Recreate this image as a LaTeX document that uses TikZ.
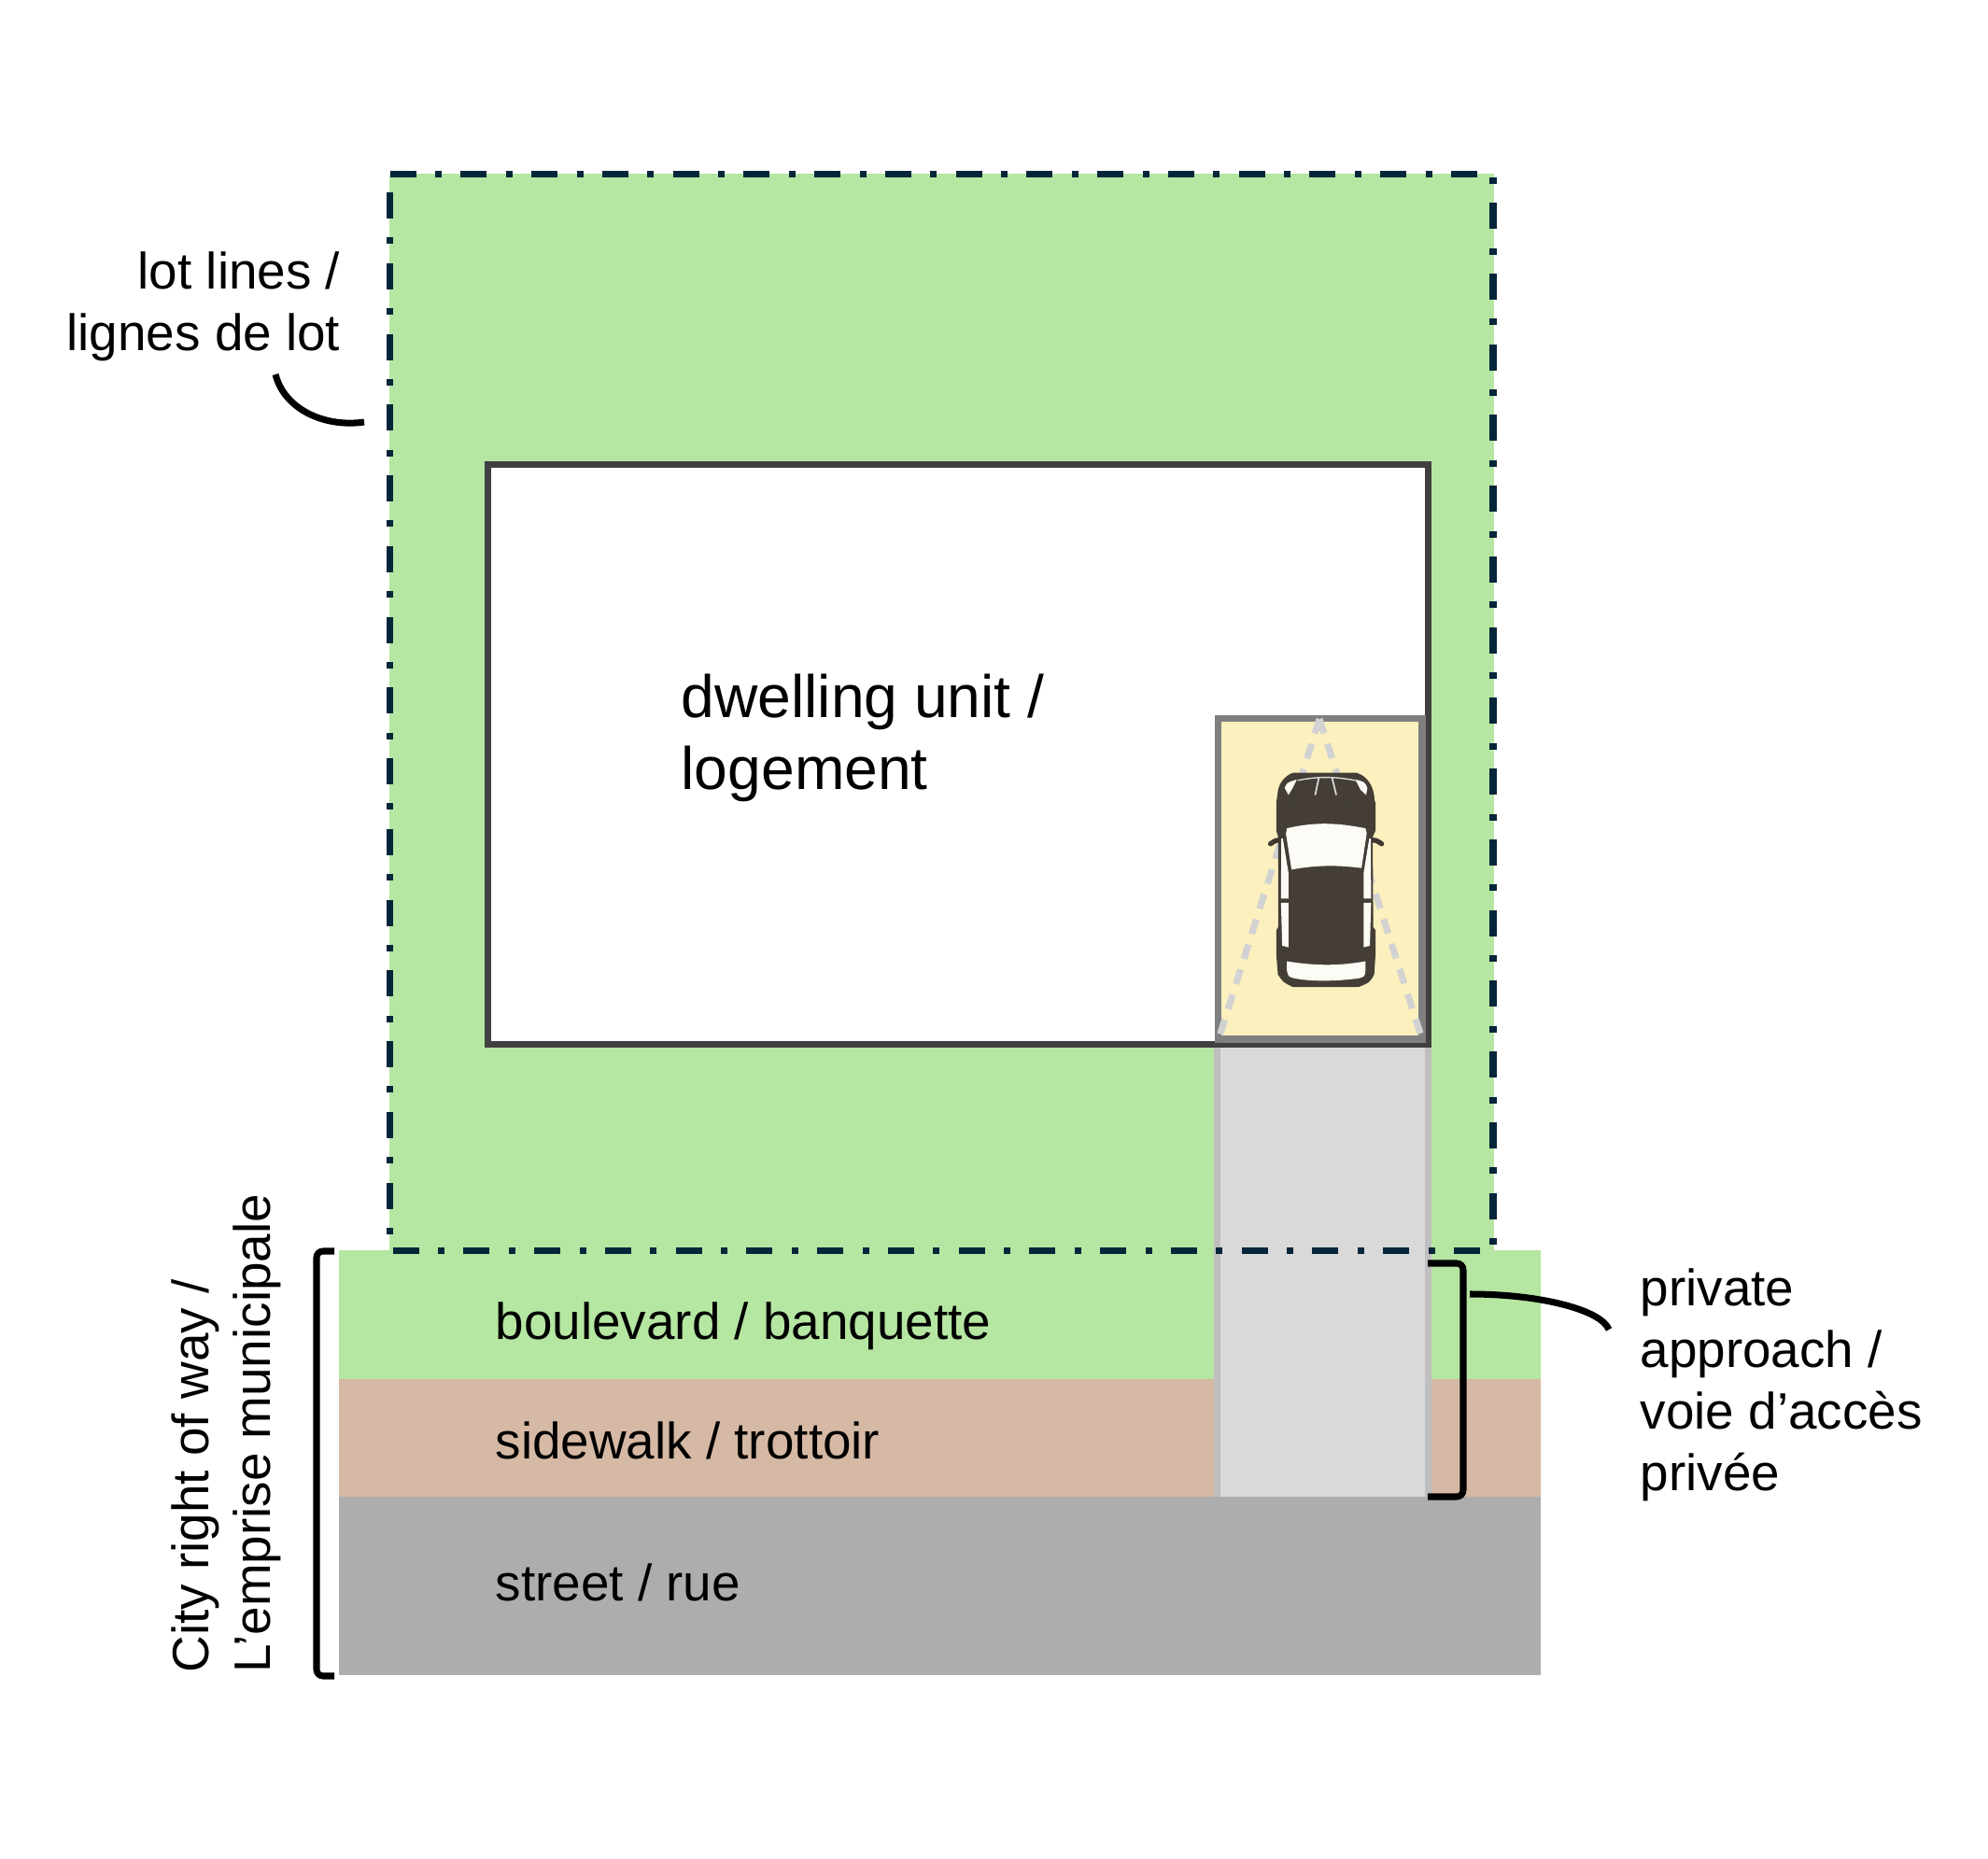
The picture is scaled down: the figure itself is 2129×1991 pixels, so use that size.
\documentclass[tikz,border=0pt]{standalone}
\usepackage{fontspec}
\setmainfont{Liberation Sans}
\usetikzlibrary{positioning}
\definecolor{lawngreen}{HTML}{B5E6A2}
\definecolor{walktan}{HTML}{D5B9A4}
\definecolor{roadgray}{HTML}{ADADAD}
\definecolor{drivegray}{HTML}{D9D9D9}
\definecolor{driveedge}{HTML}{BFBFBF}
\definecolor{wallgray}{HTML}{404040}
\definecolor{garageedge}{HTML}{7F7F7F}
\definecolor{garagefill}{HTML}{FBF0BE}
\definecolor{lotnavy}{HTML}{04253A}
\definecolor{carbody}{HTML}{3F3932}
\definecolor{carglass}{HTML}{FDFBF5}
\definecolor{clearance}{HTML}{D2D2D2}

\begin{document}
\begin{tikzpicture}[
    x=0.01cm, y=-0.01cm,
    lotline/.style={draw=lotnavy, line width=2pt, dash pattern=on 7.97pt off 5.79pt on 1.99pt off 5.79pt},
    bracket/.style={draw=black, line width=2pt, rounded corners=2pt},
    leader/.style={draw=black, line width=2pt},
    label/.style={inner sep=0pt, font=\fontsize{15.6}{18.8}\selectfont},
    biglabel/.style={inner sep=0pt, align=left, font=\fontsize{18.25}{21.9}\selectfont}
]
\useasboundingbox (0,0) rectangle (2129,1991);

% Ground
\fill[lawngreen] (417,186) rectangle (1600,1340);
\fill[lawngreen] (363,1339) rectangle (1650,1477);
\fill[walktan] (363,1477) rectangle (1650,1603);
\fill[roadgray] (363,1603) rectangle (1650,1794);

% Dwelling and garage
\draw[draw=wallgray, fill=white, line width=2pt] (522.5,497.5) rectangle (1529.5,1118.5);
\draw[draw=garageedge, fill=garagefill, line width=2pt] (1304.5,769.5) rectangle (1523,1113);

% Private approach
\fill[drivegray] (1303,1122) rectangle (1530,1603);
\draw[draw=driveedge, line width=2pt] (1303.5,1122) -- (1303.5,1603);
\draw[draw=driveedge, line width=2pt] (1529.5,1122) -- (1529.5,1603);

% Car clearance
\coordinate (apex) at (1413,770);
\coordinate (footl) at (1305,1113);
\coordinate (footr) at (1523,1113);
\draw[draw=clearance, line width=2pt, dash pattern=on 4.6pt off 3.4pt] (apex) -- (footl);
\draw[draw=clearance, line width=2pt, dash pattern=on 4.6pt off 3.4pt] (apex) -- (footr);

% Car
\begin{scope}[shift={(1270,750)}, x=0.003333cm, y=-0.003333cm]
\draw[carbody, line width=1.5pt, line cap=round] (310,450) .. controls (290,450) .. (272,462);
\draw[carbody, line width=1.5pt, line cap=round] (592,450) .. controls (612,450) .. (630,462);
\fill[carbody, opacity=0.97] (345,233) -- (548,233) .. controls (585,243) and (606,280) .. (607,320)
    -- (610,330) -- (610,420) -- (601,440) -- (603,730) -- (610,740) -- (610,820)
    -- (606,882) .. controls (592,908) .. (555,923) -- (345,923) .. controls (313,908) .. (296,882)
    -- (291,820) -- (291,740) -- (297,730) -- (297,440) -- (291,420) -- (291,330)
    -- (295,300) .. controls (297,268) and (318,243) .. (345,233) -- cycle;
\fill[carglass] (325,412) .. controls (420,390) and (490,395) .. (578,412) -- (582,428) -- (565,540)
    .. controls (490,530) and (420,530) .. (340,545) -- (322,430) -- cycle;
\fill[carglass] (307,445) -- (312,445) -- (330,555) -- (330,638) -- (306,638) -- cycle;
\fill[carglass] (306,652) -- (330,652) -- (330,795) -- (310,790) -- cycle;
\fill[carglass] (595,445) -- (590,445) -- (572,555) -- (572,638) -- (596,638) -- cycle;
\fill[carglass] (596,652) -- (572,652) -- (572,795) -- (592,790) -- cycle;
\fill[carglass] (325,840) .. controls (420,855) and (490,855) .. (578,840) -- (578,870)
    .. controls (575,890) .. (555,895) .. controls (480,905) and (400,905) .. (350,895)
    .. controls (330,890) .. (325,870) -- cycle;
\fill[carglass] (318,282) .. controls (325,265) .. (357,255) -- (342,285) -- (330,305) -- cycle;
\fill[carglass] (545,255) .. controls (575,262) .. (584,282) -- (580,305) -- (562,288) -- cycle;
\draw[drivegray, line width=0.4pt] (360,258) .. controls (420,245) and (480,245) .. (545,258);
\draw[drivegray, line width=0.5pt] (428,248) -- (416,305);
\draw[drivegray, line width=0.5pt] (470,248) -- (484,305);
\end{scope}

% Lot lines
\draw[lotline] (417.7,186.5) -- (1599,186.5) -- (1599,1339.3) -- (417.7,1339.3) -- cycle;

% Brackets
\draw[bracket] (358,1340) -- (339,1340) -- (339,1795) -- (358,1795);
\draw[bracket] (1529,1353) -- (1567,1353) -- (1567,1603) -- (1529,1603);

% Labels
\node[biglabel, anchor=west] (dwelling) at (729,790) {dwelling unit /\\logement};
\node[label, anchor=west] (boulevard) at (530,1420) {boulevard / banquette};
\node[label, anchor=west] (sidewalk) at (530,1543) {sidewalk / trottoir};
\node[label, anchor=west] (street) at (530,1695) {street / rue};
\node[label, align=right, anchor=east] (lotlabel) at (365,328) {lot lines /\\lignes de lot};
\node[label, align=left, anchor=west] (approach) at (1756,1483) {private\\approach /\\voie d’accès\\privée};
\node[label, align=left, anchor=center, rotate=90] (cityrow) at (242,1535) {City right of way /\\L’emprise municipale};

% Leaders
\coordinate (lotend) at (390,452);
\coordinate (lotstart) at (295,401);
\coordinate (approachend) at (1574,1386);
\coordinate (approachstart) at (1723,1424);
\draw[leader] (lotstart) .. controls (305,440) and (350,458) .. (lotend);
\draw[leader] (approachend) .. controls (1650,1386) and (1715,1403) .. (approachstart);

\end{tikzpicture}
\end{document}
